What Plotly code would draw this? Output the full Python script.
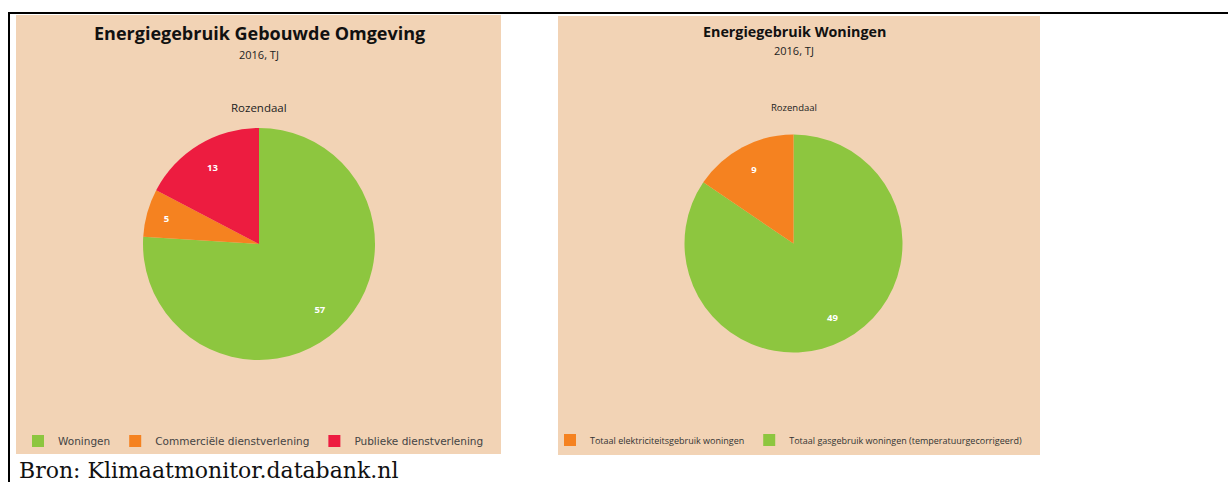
import plotly.graph_objects as go

W, H = 1228, 482

# ---- data ----
left_labels = ["Woningen", "Commerciële dienstverlening", "Publieke dienstverlening"]
left_values = [57, 5, 13]
left_colors = ["#8DC63F", "#F58220", "#ED1C40"]

# drawn clockwise from 12 o'clock; legend shows them reversed
right_labels = ["Totaal gasgebruik woningen (temperatuurgecorrigeerd)",
                "Totaal elektriciteitsgebruik woningen"]
right_values = [49, 9]
right_colors = ["#8DC63F", "#F58220"]

BEIGE = "#F2D3B5"


def px_x(x):
    return x / W


def px_y(y):
    return 1 - y / H


def square_domain(cx, cy, r):
    return dict(x=[px_x(cx - r), px_x(cx + r)], y=[px_y(cy + r), px_y(cy - r)])


fig = go.Figure()

LDOM = square_domain(259, 244, 116)
RDOM = square_domain(793.5, 243.5, 109)

# colored pies (no text)
fig.add_trace(go.Pie(
    labels=left_labels, values=left_values,
    marker=dict(colors=left_colors, line=dict(width=0)),
    sort=False, direction="clockwise", rotation=0,
    textinfo="none", domain=LDOM,
    legend="legend", showlegend=True, hoverinfo="label+value",
))
fig.add_trace(go.Pie(
    labels=right_labels, values=right_values,
    marker=dict(colors=right_colors, line=dict(width=0)),
    sort=False, direction="clockwise", rotation=0,
    textinfo="none", domain=RDOM,
    legend="legend2", showlegend=True, hoverinfo="label+value",
))

# transparent ring pies to place the value labels further out
for labels, values, dom in [(left_labels, left_values, LDOM),
                            (right_labels, right_values, RDOM)]:
    fig.add_trace(go.Pie(
        labels=labels, values=values, hole=0.54,
        marker=dict(colors=["rgba(0,0,0,0)"] * len(values), line=dict(width=0)),
        sort=False, direction="clockwise", rotation=0,
        texttemplate="<b>%{value}</b>", textposition="inside",
        insidetextorientation="horizontal",
        insidetextfont=dict(color="white", size=9.5, family="Open Sans"),
        domain=dom, showlegend=False, hoverinfo="skip",
    ))

shapes = [
    # beige panels
    dict(type="rect", xref="paper", yref="paper", layer="below",
         x0=px_x(16), x1=px_x(501), y0=px_y(454), y1=px_y(15),
         fillcolor=BEIGE, line=dict(width=0)),
    dict(type="rect", xref="paper", yref="paper", layer="below",
         x0=px_x(558), x1=px_x(1040), y0=px_y(455), y1=px_y(16),
         fillcolor=BEIGE, line=dict(width=0)),
    # black frame lines
    dict(type="line", xref="paper", yref="paper",
         x0=px_x(8), x1=px_x(1228), y0=px_y(13), y1=px_y(13),
         line=dict(color="black", width=2)),
    dict(type="line", xref="paper", yref="paper",
         x0=px_x(9), x1=px_x(9), y0=px_y(12), y1=px_y(482),
         line=dict(color="black", width=2)),
]


def ann(text, x, y, size, family="Open Sans", color="#222", bold=False, xanchor="center"):
    return dict(text=f"<b>{text}</b>" if bold else text, x=px_x(x), y=px_y(y),
                xref="paper", yref="paper", showarrow=False,
                xanchor=xanchor, yanchor="middle",
                font=dict(size=size, family=family, color=color))


annotations = [
    ann("Energiegebruik Gebouwde Omgeving", 259, 33, 18, bold=True, color="#111"),
    ann("2016, TJ", 259, 54, 11),
    ann("Rozendaal", 259, 107, 11.5),
    ann("Energiegebruik Woningen", 794, 32, 14.3, bold=True, color="#111"),
    ann("2016, TJ", 794, 51, 11),
    ann("Rozendaal", 794, 107, 9.5),
    ann("Bron: Klimaatmonitor.databank.nl", 17, 470, 22, family="DejaVu Serif",
        color="#111", xanchor="left"),
]

fig.update_layout(
    width=W, height=H,
    margin=dict(l=0, r=0, t=0, b=0),
    paper_bgcolor="white", plot_bgcolor="white",
    shapes=shapes, annotations=annotations,
    legend=dict(orientation="h", x=px_x(18), y=px_y(441), xanchor="left", yanchor="middle",
                bgcolor="rgba(0,0,0,0)", font=dict(size=10.5, family="DejaVu Sans", color="#444"),
                itemwidth=30, traceorder="normal"),
    legend2=dict(orientation="h", x=px_x(550), y=px_y(440), xanchor="left", yanchor="middle",
                 bgcolor="rgba(0,0,0,0)", font=dict(size=9.0, family="Open Sans", color="#333"),
                 itemwidth=30, traceorder="reversed"),
)

fig.write_html("out.html", config={"displayModeBar": False},
               post_script="document.body.style.margin='0';document.body.style.overflow='hidden';")
